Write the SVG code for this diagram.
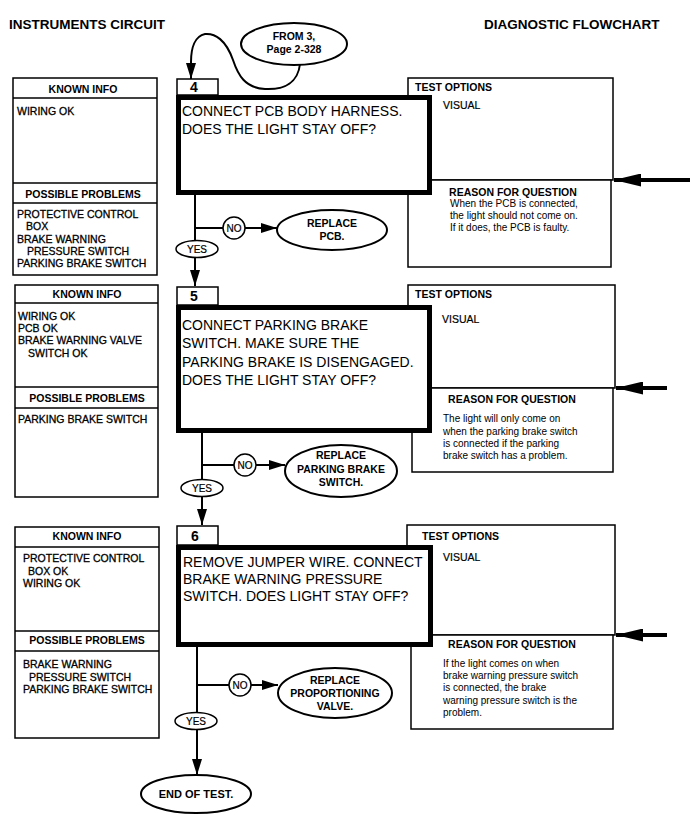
<svg xmlns="http://www.w3.org/2000/svg" width="698" height="828" viewBox="0 0 698 828">
<defs>
<style>
text{font-family:"Liberation Sans",Arial,Helvetica,sans-serif;fill:#000}
.ttl{font-size:13.5px;font-weight:bold}
.hd{font-size:10.5px;font-weight:bold}
.ct{font-size:10.5px;stroke:#000;stroke-width:0.3}
.rs{font-size:10px}
.q{font-size:14px}
.num{font-size:14px;font-weight:bold}
.el{font-size:10.5px;font-weight:bold}
.yn{font-size:10px;stroke:#000;stroke-width:0.2}
.bx{fill:#fff;stroke:#000;stroke-width:1.5}
.main{fill:#fff;stroke:#000;stroke-width:5}
.ln{fill:none;stroke:#000;stroke-width:1.5}
.fl{fill:none;stroke:#000;stroke-width:2}
.big{fill:none;stroke:#000;stroke-width:4}
.oval{fill:#fff;stroke:#000;stroke-width:2}
.lbl{fill:#fff;stroke:#000;stroke-width:1.5}
</style>
<marker id="ah" markerUnits="userSpaceOnUse" markerWidth="16" markerHeight="10" refX="16" refY="5" orient="auto">
<path d="M0,0 L16,5 L0,10 z" fill="#000"/>
</marker>
<marker id="bah" markerUnits="userSpaceOnUse" markerWidth="27" markerHeight="13" refX="27" refY="6.5" orient="auto">
<path d="M0,0 L27,6.5 L0,13 z" fill="#000"/>
</marker>
</defs>
<rect width="698" height="828" fill="#fff"/>

<g id="titles">
<text class="ttl" x="9" y="29">INSTRUMENTS CIRCUIT</text>
<text class="ttl" x="484" y="29">DIAGNOSTIC FLOWCHART</text>
</g>

<!-- Section 4 -->
<g id="known4">
<rect class="bx" x="13" y="78" width="144" height="197"/>
<line class="ln" x1="13" y1="98" x2="157" y2="98"/>
<line class="ln" x1="13" y1="183" x2="157" y2="183"/>
<line class="ln" x1="13" y1="203" x2="157" y2="203"/>
<text class="hd" x="83" y="93" text-anchor="middle">KNOWN INFO</text>
<text class="ct" x="17" y="115">WIRING OK</text>
<text class="hd" x="83" y="198" text-anchor="middle">POSSIBLE PROBLEMS</text>
<text class="ct" x="17" y="218">PROTECTIVE CONTROL</text>
<text class="ct" x="26" y="230">BOX</text>
<text class="ct" x="17" y="243">BRAKE WARNING</text>
<text class="ct" x="27" y="255">PRESSURE SWITCH</text>
<text class="ct" x="17" y="267">PARKING BRAKE SWITCH</text>
</g>
<g id="options4">
<rect class="bx" x="408" y="78" width="205" height="102"/>
<rect class="bx" x="408" y="180" width="203" height="87"/>
<text class="hd" x="415" y="91">TEST OPTIONS</text>
<text class="ct" x="443" y="109" style="stroke-width:0.2">VISUAL</text>
<text class="hd" x="513" y="196" text-anchor="middle">REASON FOR QUESTION</text>
<text class="rs" x="450" y="207">When the PCB is connected,</text>
<text class="rs" x="450" y="219">the light should not come on.</text>
<text class="rs" x="450" y="231">If it does, the PCB is faulty.</text>
</g>
<g id="step4">
<rect class="main" x="178.5" y="97.5" width="251" height="95"/>
<rect class="lbl" x="177" y="79" width="41" height="16"/>
<text class="num" x="190" y="92">4</text>
<text class="q" x="182" y="116">CONNECT PCB BODY HARNESS.</text>
<text class="q" x="182" y="134">DOES THE LIGHT STAY OFF?</text>
</g>

<!-- Section 5 -->
<g id="known5">
<rect class="bx" x="15" y="285" width="143" height="212"/>
<line class="ln" x1="15" y1="303" x2="158" y2="303"/>
<line class="ln" x1="15" y1="387" x2="158" y2="387"/>
<line class="ln" x1="15" y1="408" x2="158" y2="408"/>
<text class="hd" x="87" y="298" text-anchor="middle">KNOWN INFO</text>
<text class="ct" x="18" y="320">WIRING OK</text>
<text class="ct" x="18" y="332">PCB OK</text>
<text class="ct" x="18" y="344">BRAKE WARNING VALVE</text>
<text class="ct" x="28" y="357">SWITCH OK</text>
<text class="hd" x="87" y="402" text-anchor="middle">POSSIBLE PROBLEMS</text>
<text class="ct" x="18" y="423">PARKING BRAKE SWITCH</text>
</g>
<g id="options5">
<rect class="bx" x="408" y="285" width="207" height="103"/>
<rect class="bx" x="412" y="388" width="201" height="84"/>
<text class="hd" x="415" y="298">TEST OPTIONS</text>
<text class="ct" x="442" y="323" style="stroke-width:0.2">VISUAL</text>
<text class="hd" x="512" y="403" text-anchor="middle">REASON FOR QUESTION</text>
<text class="rs" x="443" y="422">The light will only come on</text>
<text class="rs" x="443" y="435">when the parking brake switch</text>
<text class="rs" x="443" y="447">is connected if the parking</text>
<text class="rs" x="443" y="459">brake switch has a problem.</text>
</g>
<g id="step5">
<rect class="main" x="178.5" y="307.5" width="251" height="123"/>
<rect class="lbl" x="177" y="287" width="41" height="18"/>
<text class="num" x="190" y="301">5</text>
<text class="q" x="182" y="330">CONNECT PARKING BRAKE</text>
<text class="q" x="182" y="348">SWITCH. MAKE SURE THE</text>
<text class="q" x="182" y="367">PARKING BRAKE IS DISENGAGED.</text>
<text class="q" x="182" y="385">DOES THE LIGHT STAY OFF?</text>
</g>

<!-- Section 6 -->
<g id="known6">
<rect class="bx" x="15" y="527" width="144" height="211"/>
<line class="ln" x1="15" y1="547" x2="159" y2="547"/>
<line class="ln" x1="15" y1="631" x2="159" y2="631"/>
<line class="ln" x1="15" y1="651" x2="159" y2="651"/>
<text class="hd" x="87" y="540" text-anchor="middle">KNOWN INFO</text>
<text class="ct" x="23" y="562">PROTECTIVE CONTROL</text>
<text class="ct" x="28" y="575">BOX OK</text>
<text class="ct" x="23" y="587">WIRING OK</text>
<text class="hd" x="87" y="644" text-anchor="middle">POSSIBLE PROBLEMS</text>
<text class="ct" x="23" y="668">BRAKE WARNING</text>
<text class="ct" x="29" y="681">PRESSURE SWITCH</text>
<text class="ct" x="23" y="693">PARKING BRAKE SWITCH</text>
</g>
<g id="options6">
<rect class="bx" x="407" y="525" width="208" height="110"/>
<rect class="bx" x="411" y="635" width="202" height="94"/>
<text class="hd" x="422" y="540">TEST OPTIONS</text>
<text class="ct" x="443" y="561" style="stroke-width:0.2">VISUAL</text>
<text class="hd" x="512" y="648" text-anchor="middle">REASON FOR QUESTION</text>
<text class="rs" x="443" y="667">If the light comes on when</text>
<text class="rs" x="443" y="679">brake warning pressure switch</text>
<text class="rs" x="443" y="691">is connected, the brake</text>
<text class="rs" x="443" y="704">warning pressure switch is the</text>
<text class="rs" x="443" y="716">problem.</text>
</g>
<g id="step6">
<rect class="main" x="178.5" y="547.5" width="252" height="97"/>
<rect class="lbl" x="177" y="526" width="41" height="19"/>
<text class="num" x="191" y="541">6</text>
<text class="q" x="183" y="567">REMOVE JUMPER WIRE. CONNECT</text>
<text class="q" x="183" y="584">BRAKE WARNING PRESSURE</text>
<text class="q" x="183" y="601">SWITCH. DOES LIGHT STAY OFF?</text>
</g>

<!-- Connectors -->
<g id="connectors">
<path class="fl" d="M300,64 C298,82 285,90 265,89 C245,88 238,75 233,60 C226,40 215,33 205,34 C195,36 191,48 191,62 L191,79" marker-end="url(#ah)"/>
<line class="fl" x1="195" y1="195" x2="195" y2="286" marker-end="url(#ah)"/>
<line class="fl" x1="195" y1="228" x2="223" y2="228"/>
<line class="fl" x1="245" y1="228" x2="277" y2="228" marker-end="url(#ah)"/>
<line class="fl" x1="202" y1="433" x2="202" y2="525" marker-end="url(#ah)"/>
<line class="fl" x1="202" y1="465" x2="234" y2="465"/>
<line class="fl" x1="256" y1="465" x2="285" y2="465" marker-end="url(#ah)"/>
<line class="fl" x1="197" y1="647" x2="197" y2="775" marker-end="url(#ah)"/>
<line class="fl" x1="197" y1="685" x2="229" y2="685"/>
<line class="fl" x1="251" y1="685" x2="278" y2="685" marker-end="url(#ah)"/>
<line class="big" x1="690" y1="180" x2="614" y2="180" marker-end="url(#bah)"/>
<line class="big" x1="667" y1="388" x2="616" y2="388" marker-end="url(#bah)"/>
<line class="big" x1="667" y1="635" x2="616" y2="635" marker-end="url(#bah)"/>
</g>

<g id="from3">
<ellipse class="oval" cx="294" cy="44" rx="53" ry="21"/>
<text class="el" x="294" y="40" text-anchor="middle">FROM 3,</text>
<text class="el" x="294" y="53" text-anchor="middle">Page 2-328</text>
</g>
<g id="no4">
<circle class="oval" cx="234" cy="228" r="11" style="stroke-width:1.5"/>
<text class="yn" x="234" y="232" text-anchor="middle">NO</text>
</g>
<g id="yes4">
<ellipse class="oval" cx="197" cy="249" rx="21" ry="8.5" style="stroke-width:1.5"/>
<text class="yn" x="197" y="253" text-anchor="middle">YES</text>
</g>
<g id="replacePCB">
<ellipse class="oval" cx="332" cy="230" rx="55" ry="20"/>
<text class="el" x="332" y="227" text-anchor="middle">REPLACE</text>
<text class="el" x="332" y="240" text-anchor="middle">PCB.</text>
</g>
<g id="no5">
<circle class="oval" cx="245" cy="465" r="11" style="stroke-width:1.5"/>
<text class="yn" x="245" y="469" text-anchor="middle">NO</text>
</g>
<g id="yes5">
<ellipse class="oval" cx="202" cy="488" rx="21" ry="8.5" style="stroke-width:1.5"/>
<text class="yn" x="202" y="492" text-anchor="middle">YES</text>
</g>
<g id="replacePBS">
<ellipse class="oval" cx="341" cy="471" rx="56" ry="26"/>
<text class="el" x="341" y="459" text-anchor="middle">REPLACE</text>
<text class="el" x="341" y="473" text-anchor="middle">PARKING BRAKE</text>
<text class="el" x="341" y="486" text-anchor="middle">SWITCH.</text>
</g>
<g id="no6">
<circle class="oval" cx="240" cy="685" r="11" style="stroke-width:1.5"/>
<text class="yn" x="240" y="689" text-anchor="middle">NO</text>
</g>
<g id="yes6">
<ellipse class="oval" cx="196" cy="721" rx="21" ry="8.5" style="stroke-width:1.5"/>
<text class="yn" x="196" y="725" text-anchor="middle">YES</text>
</g>
<g id="replacePV">
<ellipse class="oval" cx="335" cy="693" rx="57" ry="25"/>
<text class="el" x="335" y="684" text-anchor="middle">REPLACE</text>
<text class="el" x="335" y="697" text-anchor="middle">PROPORTIONING</text>
<text class="el" x="335" y="710" text-anchor="middle">VALVE.</text>
</g>
<g id="endtest">
<ellipse class="oval" cx="196" cy="794" rx="55" ry="19"/>
<text class="el" x="196" y="798" text-anchor="middle" style="font-size:11px">END OF TEST.</text>
</g>
</svg>
